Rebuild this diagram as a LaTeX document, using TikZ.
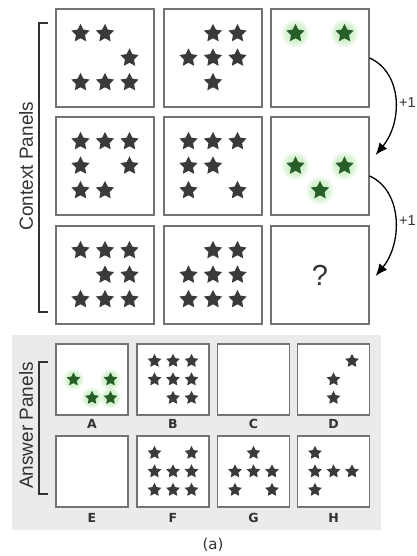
\documentclass[tikz,border=0pt]{standalone}
\usepackage{fontspec}
\setmainfont{Liberation Sans}
\newfontfamily\djv{DejaVu Sans}
\usetikzlibrary{arrows.meta}

\definecolor{starDark}{RGB}{58,58,58}
\definecolor{starGreen}{RGB}{40,95,40}
\definecolor{glowGreen}{RGB}{130,220,110}
\definecolor{panelGray}{RGB}{115,115,115}
\definecolor{bgGray}{RGB}{235,235,235}
\definecolor{inkGray}{RGB}{50,50,50}

\tikzset{
  pics/dstar/.style={code={
    \fill[starDark] (-90:#1) -- (-54:{0.5*#1}) -- (-18:#1) -- (18:{0.5*#1})
      -- (54:#1) -- (90:{0.5*#1}) -- (126:#1) -- (162:{0.5*#1})
      -- (198:#1) -- (234:{0.5*#1}) -- cycle;}},
  pics/gstar/.style={code={
    \foreach \g in {1.45,1.3,1.15,1.0}
      \fill[glowGreen,opacity=0.09] (0,0) circle ({\g*#1});
    \fill[starGreen] (-90:#1) -- (-54:{0.5*#1}) -- (-18:#1) -- (18:{0.5*#1})
      -- (54:#1) -- (90:{0.5*#1}) -- (126:#1) -- (162:{0.5*#1})
      -- (198:#1) -- (234:{0.5*#1}) -- cycle;}},
  cpanel/.style={draw=panelGray, line width=1.3pt, fill=white, inner sep=0pt,
    minimum width=98pt, minimum height=98pt},
  apanel/.style={draw=panelGray, line width=1.3pt, fill=white, inner sep=0pt,
    minimum width=72pt, minimum height=71pt},
  alabel/.style={font=\djv\bfseries\fontsize{12.5}{14}\selectfont, text=inkGray, inner sep=0pt},
  sidetext/.style={font=\fontsize{19}{22}\selectfont, text=inkGray, rotate=90, inner sep=0pt},
  bracket/.style={draw=inkGray, line width=1.4pt},
  bendarrow/.style={draw=black, line width=1.3pt, -{Latex[length=12pt,width=10pt]}},
  plusone/.style={font=\fontsize{14.5}{17}\selectfont, text=inkGray, anchor=west, inner sep=0pt},
}

% place stars on a 3x3 grid around a panel's centre
\newcommand\gridstars[4]{%
  \foreach \c/\r in {#4}
    \pic at ([shift={({(\c-2)*#2},{(\r-2)*#2})}]#1.center) {#3};}

\begin{document}
\begin{tikzpicture}[x=1pt, y=-1pt]
\useasboundingbox (0,0) rectangle (416,556);
\fill[white] (0,0) rectangle (416,556);

% grey band behind the answer choices
\fill[bgGray] (12,335) rectangle (381,530);

% context grid
\node[cpanel] (p11) at (105,58) {};
\node[cpanel] (p12) at (213,58) {};
\node[cpanel] (p13) at (320,58) {};
\node[cpanel] (p21) at (105,166) {};
\node[cpanel] (p22) at (213,166) {};
\node[cpanel] (p23) at (320,166) {};
\node[cpanel] (p31) at (105,275) {};
\node[cpanel] (p32) at (213,275) {};
\node[cpanel, font=\fontsize{29}{32}\selectfont, text=inkGray] (p33) at (320,275) {?};

\gridstars{p11}{24.5}{dstar=9.6}{1/1,2/1,3/2,1/3,2/3,3/3}
\gridstars{p12}{24.5}{dstar=9.6}{2/1,3/1,1/2,2/2,3/2,2/3}
\gridstars{p13}{24.5}{gstar=9.6}{1/1,3/1}
\gridstars{p21}{24.5}{dstar=9.6}{1/1,2/1,3/1,1/2,3/2,1/3,2/3}
\gridstars{p22}{24.5}{dstar=9.6}{1/1,2/1,3/1,1/2,2/2,1/3,3/3}
\gridstars{p23}{24.5}{gstar=9.6}{1/2,3/2,2/3}
\gridstars{p31}{24.5}{dstar=9.6}{1/1,2/1,3/1,2/2,3/2,1/3,2/3,3/3}
\gridstars{p32}{24.5}{dstar=9.6}{2/1,3/1,1/2,2/2,3/2,1/3,2/3,3/3}

% progression arrows
\draw[bendarrow] (p13.east) .. controls +(33,15) and +(27,-33) .. ([shift={(6,-11)}]p23.east);
\draw[bendarrow] ([shift={(0,10)}]p23.east) .. controls +(33,15) and +(27,-33) .. ([shift={(6,1)}]p33.east);
\node[plusone] (inc1) at (399,103) {+1};
\node[plusone] (inc2) at (399,221) {+1};

% answer choices
\node[apanel] (pa) at (92,379.5) {};
\node[apanel] (pb) at (173,379.5) {};
\node[apanel] (pc) at (253.5,379.5) {};
\node[apanel] (pd) at (333.5,379.5) {};
\node[apanel] (pe) at (92,471.5) {};
\node[apanel] (pf) at (173,471.5) {};
\node[apanel] (pg) at (253.5,471.5) {};
\node[apanel] (ph) at (333.5,471.5) {};

\gridstars{pa}{18.5}{gstar=7.2}{1/2,3/2,2/3,3/3}
\gridstars{pb}{18.5}{dstar=7.2}{1/1,2/1,3/1,1/2,2/2,3/2,2/3,3/3}
\gridstars{pd}{18.5}{dstar=7.2}{3/1,2/2,2/3}
\gridstars{pf}{18.5}{dstar=7.2}{1/1,3/1,1/2,2/2,3/2,1/3,2/3,3/3}
\gridstars{pg}{18.5}{dstar=7.2}{2/1,1/2,2/2,3/2,1/3,3/3}
\gridstars{ph}{18.5}{dstar=7.2}{1/1,1/2,2/2,3/2,1/3}

\node[alabel] (la) at (92,424) {A};
\node[alabel] (lb) at (173,424) {B};
\node[alabel] (lc) at (253.5,424) {C};
\node[alabel] (ld) at (333.5,424) {D};
\node[alabel] (le) at (92,518) {E};
\node[alabel] (lf) at (173,518) {F};
\node[alabel] (lg) at (253.5,518) {G};
\node[alabel] (lh) at (333.5,518) {H};

% side brackets and titles
\draw[bracket] (48,23) -- (39,23) -- (39,312) -- (48,312);
\draw[bracket] (48,362) -- (39,362) -- (39,494) -- (48,494);
\node[sidetext] (ctxtitle) at (26,166) {Context Panels};
\node[sidetext] (anstitle) at (26,425.5) {Answer Panels};

% caption
\node[font=\djv\fontsize{15}{17}\selectfont, text=inkGray, inner sep=0pt] (cap) at (213,545) {(a)};
\end{tikzpicture}
\end{document}
